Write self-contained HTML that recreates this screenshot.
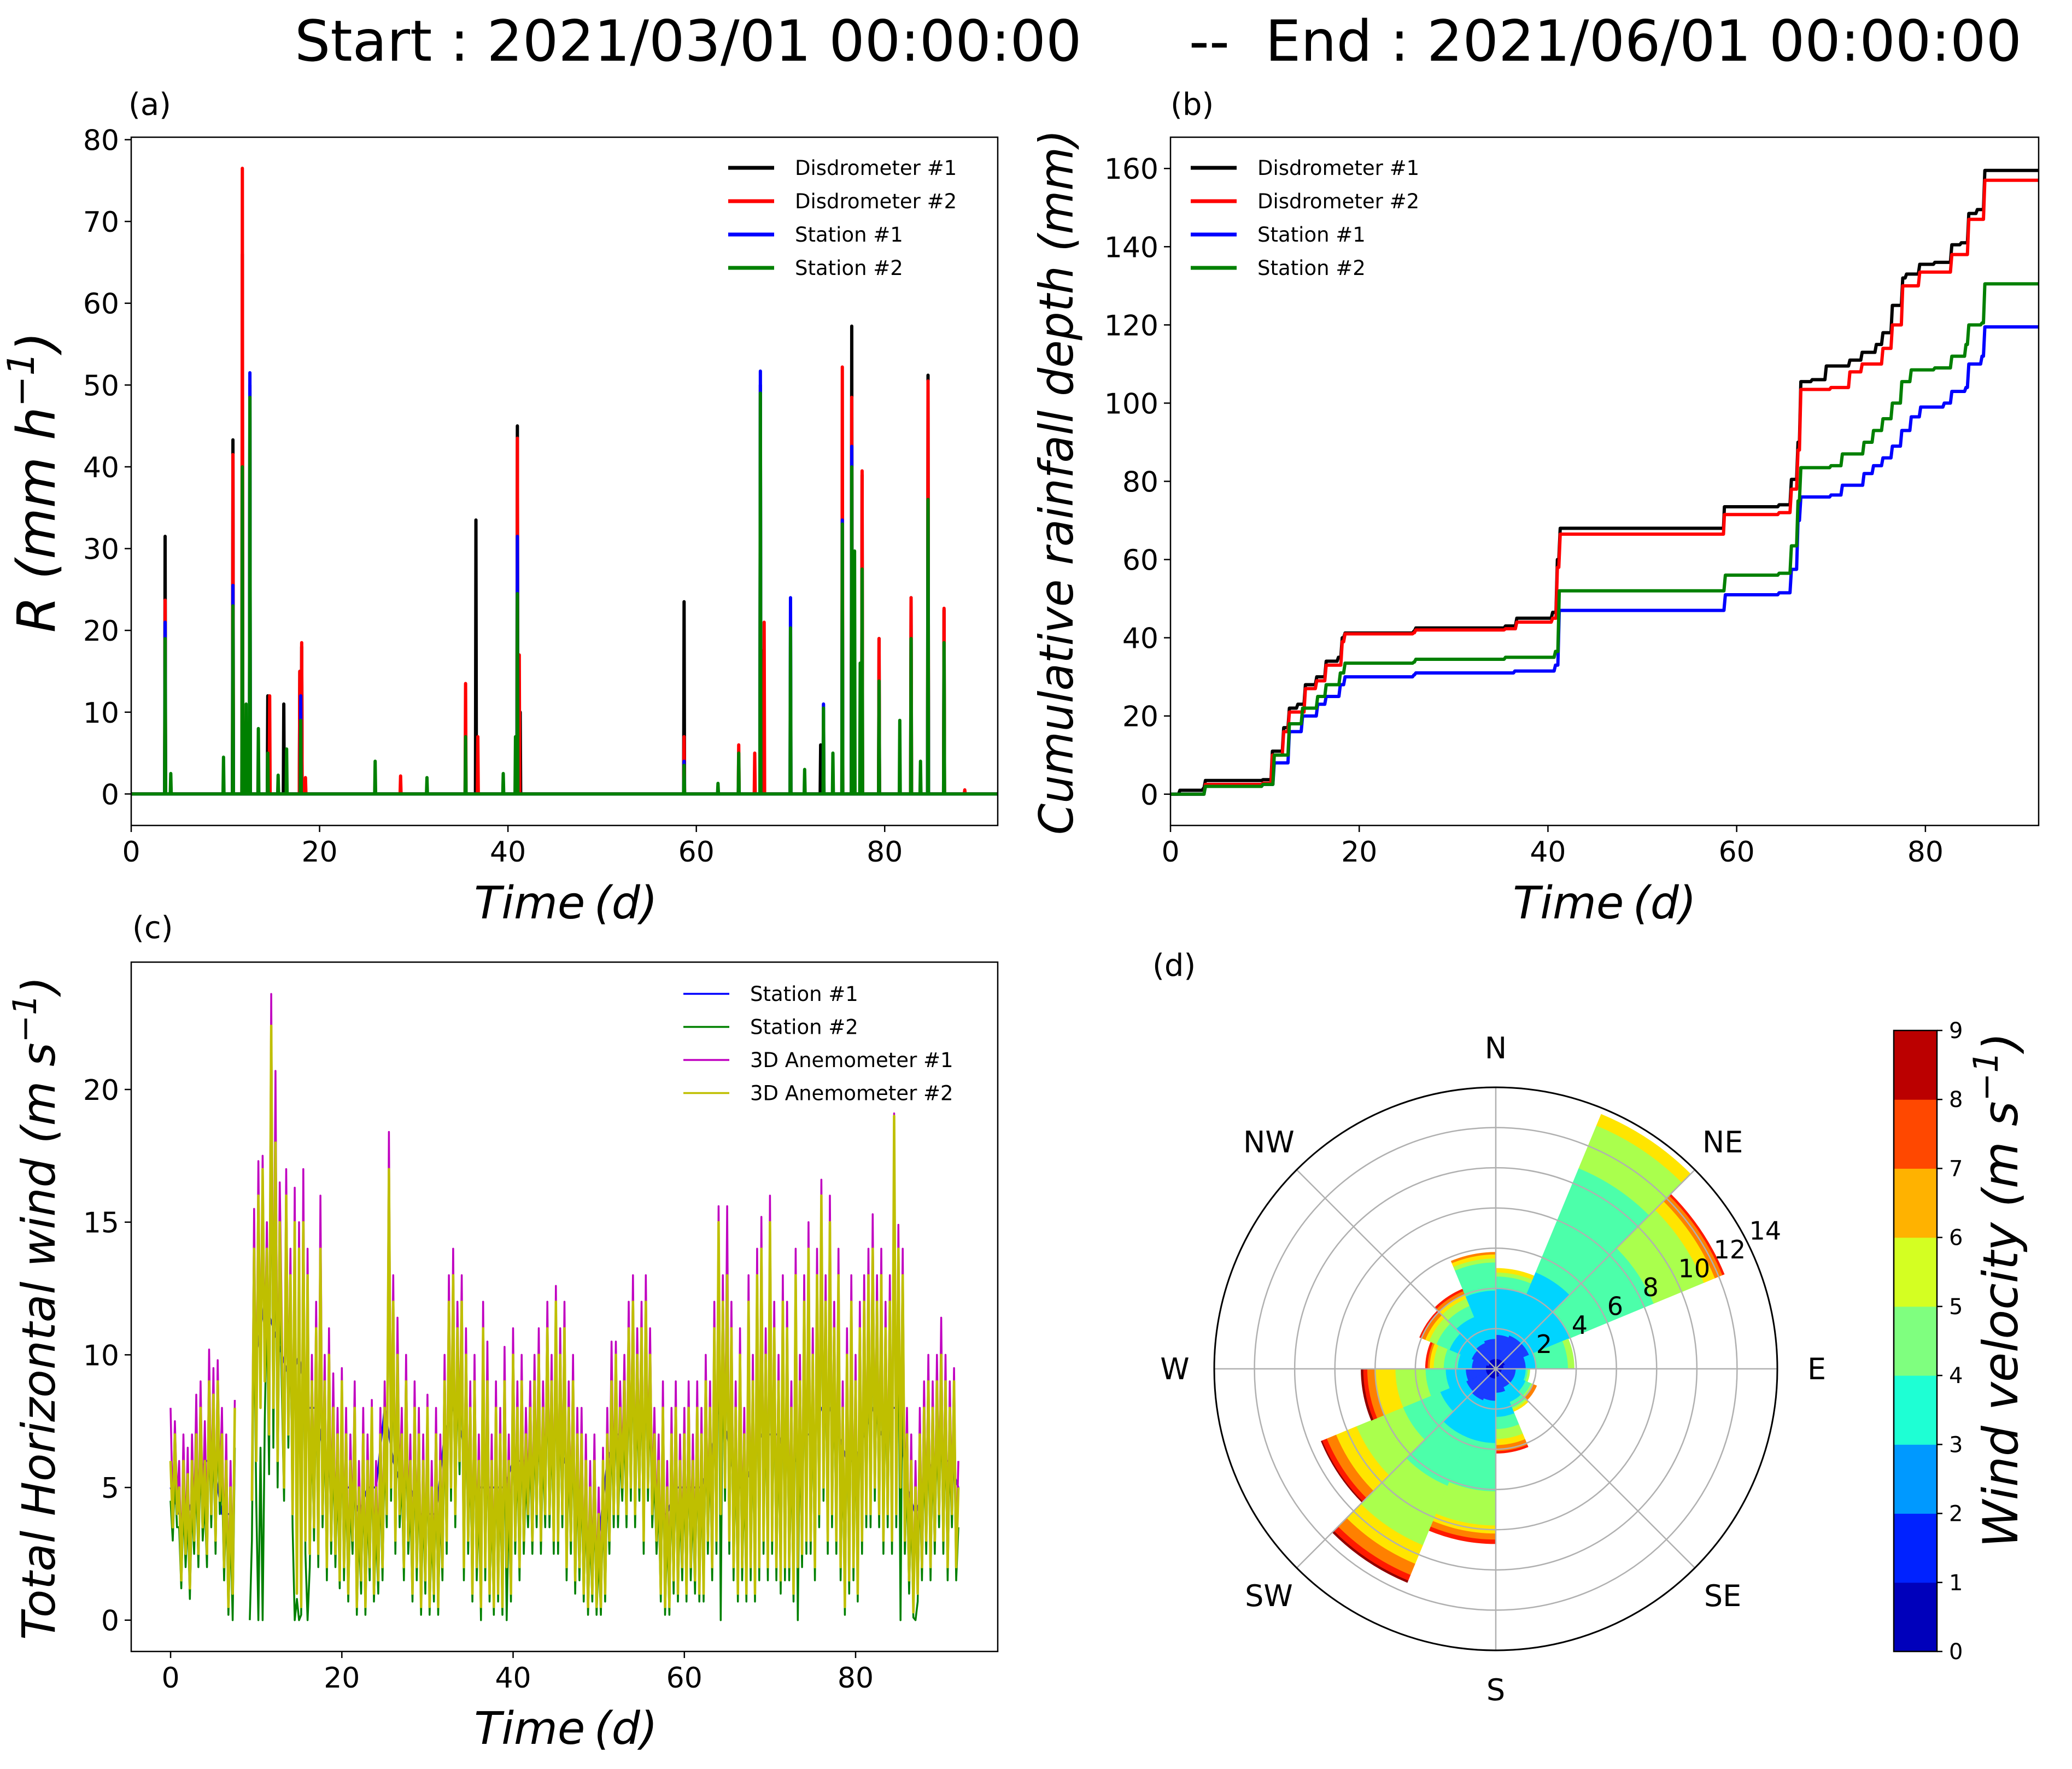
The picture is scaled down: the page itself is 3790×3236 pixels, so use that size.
<!DOCTYPE html>
<html><head><meta charset="utf-8"><style>
html,body{margin:0;padding:0;background:#fff;}
svg{display:block;font-family:"DejaVu Sans","Liberation Sans",sans-serif;}
</style></head><body>
<svg id="fig" xmlns="http://www.w3.org/2000/svg" width="3790" height="3236" viewBox="0 0 3790 3236">
<rect x="0" y="0" width="3790" height="3236" fill="#fff"/>
<text x="539" y="111" font-size="103" textLength="3159" lengthAdjust="spacingAndGlyphs" xml:space="preserve">Start : 2021/03/01 00:00:00      --  End : 2021/06/01 00:00:00</text>
</svg>
<script>
// ---------- DATA: panel (a) rain rate spikes ----------
const aD1t=[3.6,10.8,11.8,12.6,14.5,16.2,17.9,18.1,36.6,41,41.3,58.7,66.8,67,73.2,76.5,77.6,79.4,82.8,84.6,86.3];
const aD1v=[31.5,43.3,66,50,12,11,15,18,33.5,45,10,23.5,50,17.5,6,57.2,39,19,24,51.2,22.5];
const aD2t=[3.6,10.8,11.8,14.7,17.9,18.1,18.5,28.6,35.5,36.8,41,41.2,58.7,64.5,66.2,66.8,67.2,75.5,76.5,77.6,79.4,82.8,84.6,86.3,88.5];
const aD2v=[23.7,41.5,76.5,12,15,18.5,2,2.2,13.5,7,43.5,17,7,6,5,24,21,52.2,48.5,39.5,19,24,50.5,22.7,0.5];
const aS1t=[3.6,10.8,12.6,18,41,58.7,66.8,70,73.5,75.5,76.5,84.6];
const aS1v=[21,25.5,51.5,12,31.5,4,51.7,24,11,33.5,42.5,36];
const aS2t=[3.6,4.2,9.8,10.8,11.8,12.2,12.6,13.5,14.5,15.6,16.5,18,25.9,31.4,35.5,39.5,40.8,41,58.7,62.3,64.5,66.8,70,71.5,73.5,74.5,75.5,76.5,76.8,77.4,77.6,79.4,81.6,82.8,83.8,84.6,86.3];
const aS2v=[19,2.5,4.5,23,40,11,48.5,8,5,2.3,5.5,9,4,2,7,2.5,7,24.5,3.5,1.3,5,49,20.3,3,10.5,5,33,40,29.7,16,27.5,13.8,9,19,4,36,18.5];
const aXTicks=[0,20,40,60,80];
const aYTicks=[0,10,20,30,40,50,60,70,80];
// ---------- DATA: panel (b) cumulative depth ----------
const bD1t=[0,1,3.5,3.7,9.8,10.8,12,12.6,13.5,14.3,15.5,16.5,17.8,18.2,18.5,25.8,26,35.5,36.7,40.5,41,41.3,58.6,58.7,64.5,65.8,66.5,66.8,68,69.5,72,73.3,74.8,75.5,76.5,77.6,78,79.4,81,82.8,83.8,84.6,85.5,86.3,92];
const bD1v=[0,1,1.5,3.5,3.7,11,17,22,23,28,30,34,35,40,41.2,41.7,42.5,43,45,46.5,60,68,68,73.5,74,80.5,90,105.5,106,109.5,111,113,115,118,125,132,133,135.5,136,140.5,141,148.5,149.5,159.5,159.5];
const bD2t=[0,3.7,9.8,10.8,12,12.6,14.3,15.5,16.5,18.2,18.5,25.8,26,35.5,36.7,40.5,41,41.3,58.6,58.7,64.5,65.8,66.5,66.8,70,72,73.3,75.5,76.5,77.6,79.4,82.8,84.6,86.3,92];
const bD2v=[0,2.5,2.8,10,16,21,27,29,33,39,41,41.3,42,42.3,44,45,58,66.5,66.5,71.5,72,78,88,103.5,104,108,110,114,120,130,133.5,138,147,157,157];
const bS1t=[0,3.7,9.8,11,12.6,14,15.6,16.5,18,18.5,25.8,26,36.5,40.8,41.2,58.6,58.8,64.5,65.8,66.5,66.8,70,71.2,73.5,74.5,75.5,76.5,77.5,78.5,79.5,82,82.8,84.3,84.6,86,86.3,92];
const bS1v=[0,2,2.5,8,16,20,23,25,28,30,30.5,31,31.5,33,47,47,51,51.5,57.5,70,76,76.5,79,82,84,86,89,93,96.5,99,100,103,104,110,112,119.5,119.5];
const bS2t=[0,3.7,9.8,11,12.6,14,15.6,16.5,18,18.5,25.8,26,35.5,40.8,41.2,58.6,58.8,64.5,65.8,66.5,66.8,70,71.2,73.5,74.5,75.5,76.5,77.5,78.5,81,82.8,84.3,84.6,86,86.3,92];
const bS2v=[0,2,2.5,10,18,22,25,28,31,33.5,33.8,34.5,35,36.5,52,52,56,56.5,63.5,75,83.5,84,87,90,93,96,100,105.5,108.5,109,112,115,120,120.5,130.5,130.5];
const bYTicks=[0,20,40,60,80,100,120,140,160];
// ---------- DATA: panel (c) wind speed (0.25-day samples) ----------
const cYellow=[6,3.5,7,4, 5,1.5,6,2.5, 5.5,1.2,6,3, 7,2.5,8,3.5, 6,2.5,9,4, 8.5,3,9,4.5, 7,2,6,0.5, 5,1,8,null,
null,null,null,null, null,null,4.5,14, 6,16,8,17, 9,14,7,22.4, 8,18,6,15, 10,5,16,7, 13,4,15,1, 14,0.5,15,3,
13,2.5,9,3.5, 11,2.5,14,4, 9,2,10,3, 8,2.5,7,1.5, 9,2,7,1, 6,3,8,0.5, 5,1.5,7,0.5, 6,2,8,1, 5,1.5,7,2, 8,4,17,5,
12,3,10,4, 7,2,9,3, 6,1,8,2, 7,0.5,6,1.5, 8,0.5,5,1, 7,0.5,6,2, 9,3,12,5, 13,4,11,6, 12,2,10,3, 8,1,9,2,
6,0.5,11,2, 9,1,6,0.5, 8,1,7,0.5, 9,2,6,1, 10,3,8,2, 9,3,7,4, 8,3,9,4, 10,3,8,4, 11,4,9,3, 12,3,10,4,
11,2,8,3, 9,1.5,7,2, 7,1,6,0.5, 5,1,6,0.5, 4,0.5,6,1, 7,3,9,4, 10,4,8,5, 9,4,11,5, 12,4,10,5, 11,3,12,5,
10,4,7,3, 6,1,8,0.5, 5,0.5,7,1.5, 8,1,6,2, 7,1,8,2, 6,1.5,8,1, 7,1,9,3, 8,2,11,3, 15,4,12,5, 13,3,11,2,
8,1,10,2, 7,1,12,2, 9,1,13,2, 14,3,10,2, 15,3,11,2, 9,1.5,12,2, 11,2,8,1, 13,2,9,2.5, 12,3,14,3, 10,2,13,4,
16,5,12,3, 15,4,11,3, 13,2,8,0.5, 10,1.5,12,2, 9,1,11,3, 12,4,13,4, 14,5,12,4, 13,3,11,4, 12,3,19,4, 14,5,13,3,
7,1.5,6,0.3, 5,1,7,2, 8,3,9,2, 8,3,9,4, 10,3,9,2, 8,4,9,2, 5];
const cMagenta=[8,4,7.5,4.5, 6,2,7,3, 6.5,1.5,7,3.5, 8.5,3,9,4, 7.5,3,10.2,4.5, 9.5,3.5,9.8,5, 8,2.5,7,1, 6,1.5,8.3,null,
null,null,null,null, null,null,5,15.5, 7,17.3,9,17.5, 10,15,8,23.6, 9,20.7,7,16.5, 11,5.5,17,8, 14,4.5,16.3,1.5, 15,1,17,3.5,
14,3,10,4, 12,3,16,4.5, 10,2.5,11,3.5, 9.3,3,8,2, 9.5,2.5,8,1.5, 7,3.5,9,1, 6,2,8,1, 7,2.5,8.3,1.5, 6,2,8,2.5, 9,4.5,18.4,5.5,
13,3.5,11.4,4.5, 8,2.5,10,3.5, 7,1.5,9,2.5, 8,1,7,2, 8.5,1,6,1.5, 8,1,7,2.5, 10,3.5,13,5.5, 14,4.5,12,6.5, 13,2.5,11,3.5, 9,1.5,10,2.5,
7,1,12,2.5, 10.5,1.5,7,1, 9,1.5,8,1, 10.3,2.5,7,1.5, 11,3.5,9,2.5, 10,3.5,8,4.5, 9,3.5,10,4.5, 11,3.5,9,4.5, 12,4.5,10,3.5, 12.6,3.5,11,4.5,
12,2.5,9,3.5, 10,2,8,2.5, 8,1.5,7,1, 6,1.5,7,1, 5,1,6.5,1.5, 8,3.5,10.5,4.5, 10.5,4.5,9,5.5, 10,4.5,12,5.5, 13,4.5,11,5.5, 12,3.5,13,5.5,
11,4.5,8,3.5, 7,1.5,9,1, 6,1,8,2, 9,1.5,7,2.5, 8,1.5,9,2.5, 7,2,9,1.5, 8,1.5,10,3.5, 9,2.5,12,3.5, 15.6,4.5,13,5.5, 15.6,3.5,12,2.5,
9,1.5,11,2.5, 8,1.5,13,2.5, 10,1.5,14,2.5, 15.2,3.5,11,2.5, 16,3.5,12,2.5, 10,2,13,2.5, 12,2.5,9,1.5, 14,2.5,10,3, 13,3.5,15,3.5, 11,2.5,14,4.5,
16.6,5.5,13,3.5, 16,4.5,12,3.5, 14,2.5,9,1, 11,2,13,2.5, 10,1.5,12,3.5, 13,4.5,14,4.5, 15.3,5.5,13,4.5, 14,3.5,12,4.5, 13,3.5,19.1,4.5, 14.9,5.5,14,3.5,
8,2,7,0.5, 6,1.5,8,2.5, 9,3.5,10,2.5, 9,3.5,10,4.5, 11.4,3.5,10,2.5, 9,4.5,9.5,2.5, 6];
const cGreen=[4.5,3,5.5,3.5, 3.5,1.2,4.5,2, 4,0.8,4.5,2.5, 5.5,2,6.5,3, 4.5,2,7.5,3.5, 7,2.5,7.5,4, 5.5,1.5,4.5,0.2, 3.5,0,6.5,null,
null,null,null,null, null,0,3,12, 4.5,0,6.5,0, 7.5,12,5.5,20, 6.5,16,5,13, 8.5,4.5,14,6.5, 11.5,3.5,0,0.8, 0,0.2,13,2.5,
0,2,7.5,3, 9.5,2,12,3.5, 7.5,1.5,8.5,2.5, 6.5,2,5.5,1.2, 7.5,1.5,5.5,0.7, 4.5,2.5,6.5,0.2, 3.5,1,5.5,0.2, 4.5,1.5,6.5,0.7, 3.5,1,5.5,1.5, 6.5,3.5,15,4.5,
10.5,2.5,8.5,3.5, 5.5,1.5,7.5,2.5, 4.5,0.7,6.5,1.5, 5.5,0.2,4.5,1, 6.5,0.2,3.5,0.7, 5.5,0.2,4.5,1.5, 7.5,2.5,10.5,4.5, 11.5,3.5,9.5,5.5, 10.5,1.5,8.5,2.5, 6.5,0.7,7.5,1.5,
4.5,0,9.5,1.5, 7.5,0.7,4.5,0.2, 6.5,0.7,5.5,0.2, 7.5,0,4.5,0.7, 8.5,2.5,6.5,1.5, 7.5,2.5,5.5,3.5, 6.5,2.5,7.5,3.5, 8.5,2.5,6.5,3.5, 9.5,3.5,7.5,2.5, 10.5,2.5,8.5,3.5,
9.5,1.5,6.5,2.5, 7.5,1,5.5,1.5, 5.5,0.7,4.5,0.2, 3.5,0.7,4.5,0.2, 2.5,0.2,4.5,0.7, 5.5,2.5,7.5,3.5, 8.5,3.5,6.5,4.5, 7.5,3.5,9.5,4.5, 10.5,3.5,8.5,4.5, 9.5,2.5,10.5,4.5,
8.5,3.5,5.5,2.5, 4.5,0.7,6.5,0.2, 3.5,0.2,5.5,1, 6.5,0.7,4.5,1.5, 5.5,0.7,6.5,1.5, 4.5,1,6.5,0.7, 5.5,0.7,7.5,2.5, 6.5,1.5,9.5,2.5, 13.5,0,10.5,4.5, 11.5,2.5,9.5,1.5,
6.5,0.7,8.5,1.5, 5.5,0.7,10.5,1.5, 7.5,0.7,11.5,1.5, 12.5,2.5,8.5,1.5, 13.5,2.5,9.5,1.5, 7.5,1,10.5,1.5, 9.5,1.5,6.5,0.7, 11.5,0,7.5,2, 10.5,2.5,12.5,2.5, 8.5,1.5,11.5,3.5,
14.5,4.5,10.5,2.5, 13.5,3.5,9.5,2.5, 11.5,1.5,6.5,0.2, 8.5,1,10.5,1.5, 7.5,0.7,9.5,2.5, 10.5,3.5,11.5,3.5, 12.5,4.5,10.5,3.5, 11.5,2.5,9.5,3.5, 10.5,2.5,17.5,3.5, 12.5,0,11.5,2.5,
5.5,1,4.5,0.1, 0,0.7,5.5,1.5, 6.5,2.5,7.5,1.5, 6.5,2.5,7.5,3.5, 8.5,2.5,7.5,1.5, 6.5,3.5,7.5,1.5, 3.5];
const cBlue=[5,4,4,5,6,6,4,4,null,null,10,12,11,10,9,10,8,8,6,5,5,5,4,5,5,8,6,5,5,4,4,4,7,8,7,5,5,5,5,5,6,6,6,6,7,7,6,5,4,3,3,6,7,7,8,8,7,4,4,5,5,5,5,6,8,7,5,5,6,7,7,7,6,6,7,7,8,8,7,6,6,7,8,7,8,8,5,4,5,6,6,6,5];
const cXTicks=[0,20,40,60,80];
const cYTicks=[0,5,10,15,20];
// ---------- DATA: panel (d) wind rose ----------
const roseDirections=['NNE','ENE-N','ENE','E-N','ESE','SE-E','SSE','S-E','SSW','SW-S','WSW','W-S','WNW','NW-W','NNW-N','N-W'];
const roseSpeedBins=['0-1','1-2','2-3','3-4','4-5','5-6','6-7','7-8','8-9'];
const roseCum=[
[.5,1.7,4.0,4.6,4.8,5.0,5.0,5.0,5.0],
[.5,1.8,5.2,10.8,13.1,13.7,13.7,13.7,13.7],
[.5,1.8,4.0,8.5,11.2,11.8,12.2,12.3,12.3],
[.4,1.5,2.0,3.6,3.9,3.9,3.9,3.9,3.9],
[.3,1.0,1.5,1.6,1.7,1.7,1.7,1.7,1.7],
[.3,1.0,1.6,1.9,2.0,2.0,2.2,2.2,2.2],
[.3,1.0,1.8,2.1,2.2,2.3,2.3,2.3,2.3],
[.4,1.2,2.4,3.0,3.5,3.8,4.1,4.2,4.2],
[.5,1.6,3.7,6.1,7.8,8.2,8.5,8.7,8.7],
[.5,1.7,3.7,6.3,9.5,10.5,11.1,11.4,11.5],
[.5,1.6,3.0,5.0,7.5,8.6,9.1,9.35,9.4],
[.5,1.5,2.5,3.5,5.0,6.0,6.4,6.6,6.7],
[.5,1.2,1.9,2.6,3.1,3.3,3.4,3.5,3.5],
[.4,1.3,2.5,3.2,3.6,3.8,4.0,4.1,4.1],
[.5,1.4,2.8,3.4,3.8,4.0,4.2,4.3,4.3],
[.5,1.5,3.9,5.3,5.5,5.7,5.8,5.8,5.8]];
const roseRTicks=[2,4,6,8,10,12,14];
const compassLabels=['N','NE','E','SE','S','SW','W','NW'];
const cbarTicks=[0,1,2,3,4,5,6,7,8,9];

// ---------- helpers ----------
const NS='http://www.w3.org/2000/svg';
const svg=document.getElementById('fig');
function mk(tag,attrs,parent){const e=document.createElementNS(NS,tag);for(const k in attrs)e.setAttribute(k,attrs[k]);(parent||svg).appendChild(e);return e;}
function txt(s,attrs,parent){const e=mk('text',attrs,parent);e.textContent=s;return e;}
function scales(c){return{sx:v=>c.L+(v-c.xmin)/(c.xmax-c.xmin)*(c.R-c.L),sy:v=>c.B-(v-c.ymin)/(c.ymax-c.ymin)*(c.B-c.T)};}
let clipN=0;
function frame(c,name,xt,yt){
  const g=mk('g',{});
  
  
  const s=scales(c);
  const id='clip'+(clipN++);
  const cp=mk('clipPath',{id:id},g);mk('rect',{x:c.L,y:c.T,width:c.R-c.L,height:c.B-c.T},cp);
  const plot=mk('g',{'clip-path':'url(#'+id+')'},g);
  
  
  const ax=mk('g',{},g);
  xt.forEach(v=>{const x=s.sx(v);
    const t=mk('line',{x1:x,x2:x,y1:c.B,y2:c.B+12,stroke:'#000','stroke-width':2.5},ax);
    
    
    const l=txt(String(v),{x:x,y:c.B+66,'font-size':52,'text-anchor':'middle'},ax);
    
    });
  yt.forEach(v=>{const y=s.sy(v);
    const t=mk('line',{x1:c.L-12,x2:c.L,y1:y,y2:y,stroke:'#000','stroke-width':2.5},ax);
    
    
    const l=txt(String(v),{x:c.L-22,y:y+19,'font-size':52,'text-anchor':'end'},ax);
    
    });
  return {g,plot,ax,s};
}
function closeFrame(c,g){const r=mk('rect',{x:c.L,y:c.T,width:c.R-c.L,height:c.B-c.T,fill:'none',stroke:'#000','stroke-width':2.5},g);
  
  }
function timeLabel(x,y,parent){const t=txt('',{x:x,y:y,'font-size':82,'font-style':'italic','text-anchor':'middle'},parent);
  t.textContent='Time\u2009(d)';
  
  }
function legend(parent,x0,y0,dy,items,lw){
  const g=mk('g',{},parent);
  
  
  items.forEach((it,i)=>{const y=y0+i*dy;
    const e=mk('g',{},g);
    
    
    mk('line',{x1:x0,x2:x0+84,y1:y,y2:y,stroke:it[1],'stroke-width':lw},e);
    txt(it[0],{x:x0+122,y:y+13,'font-size':37},e);});
}
const COLS=['#000000','#ff0000','#0000ff','#008000'];
const NAMES=['Disdrometer #1','Disdrometer #2','Station #1','Station #2'];

// ---------- panel (a) ----------
const A={L:240,R:1825,T:251,B:1510,xmin:0,xmax:92,ymin:-3.85,ymax:80.3};
const fa=frame(A,'panel-a-rain-rate',aXTicks,aYTicks);
[[aD1t,aD1v],[aD2t,aD2v],[aS1t,aS1v],[aS2t,aS2v]].forEach((sv,k)=>{
  const s=fa.s;const y0=s.sy(0);
  let d='M'+s.sx(0)+','+y0+' L'+s.sx(7.8)+','+y0+' M'+s.sx(9.5)+','+y0;
  const idx=sv[0].map((t,i)=>i).sort((a,b)=>sv[0][a]-sv[0][b]);
  idx.forEach(i=>{const t=sv[0][i];d+=' L'+s.sx(t-0.05)+','+y0+' L'+s.sx(t)+','+s.sy(sv[1][i])+' L'+s.sx(t+0.05)+','+y0;});
  d+=' L'+s.sx(92)+','+y0;
  const p=mk('path',{d:d,fill:'none',stroke:COLS[k],'stroke-width':6,'stroke-linejoin':'round'},fa.plot);
  
  
});
legend(fa.g,1332,307,61,NAMES.map((n,i)=>[n,COLS[i]]),7);
closeFrame(A,fa.g);
timeLabel(1035,1680,fa.g);
(function(){const t=txt('',{transform:'translate(100,882) rotate(-90)','font-size':96,'font-style':'italic','text-anchor':'middle'},fa.g);
 
 
 const a=mk('tspan',{},t);a.textContent='R (mm h';const b=mk('tspan',{dy:-38,'font-size':68},t);b.textContent='\u22121';const c=mk('tspan',{dy:38},t);c.textContent=')';})();
const la=txt('(a)',{x:235,y:210,'font-size':56},svg);



// ---------- panel (b) ----------
const B={L:2141,R:3729,T:251,B:1510,xmin:0,xmax:92,ymin:-8,ymax:168};
const fb=frame(B,'panel-b-cumulative-rainfall',aXTicks,bYTicks);
[[bD1t,bD1v],[bD2t,bD2v],[bS1t,bS1v],[bS2t,bS2v]].forEach((sv,k)=>{
  const s=fb.s;let d='M'+s.sx(sv[0][0])+','+s.sy(sv[1][0]);
  for(let i=1;i<sv[0].length;i++){
    const tj=Math.max(sv[0][i-1],sv[0][i]-0.15);
    d+=' L'+s.sx(tj)+','+s.sy(sv[1][i-1])+' L'+s.sx(sv[0][i])+','+s.sy(sv[1][i]);
  }
  const p=mk('path',{d:d,fill:'none',stroke:COLS[k],'stroke-width':6,'stroke-linejoin':'round'},fb.plot);
  
  
});
legend(fb.g,2178,307,61,NAMES.map((n,i)=>[n,COLS[i]]),7);
closeFrame(B,fb.g);
timeLabel(2935,1680,fb.g);
(function(){const t=txt('Cumulative rainfall depth (mm)',{transform:'translate(1962,882) rotate(-90)','font-size':86,'font-style':'italic','text-anchor':'middle',textLength:1290,lengthAdjust:'spacingAndGlyphs'},fb.g);
 
 })();
const lb=txt('(b)',{x:2141,y:210,'font-size':56},svg);



// ---------- panel (c) ----------
const C={L:240,R:1825,T:1760,B:3021,xmin:-4.6,xmax:96.6,ymin:-1.18,ymax:24.8};
const fc=frame(C,'panel-c-horizontal-wind',cXTicks,cYTicks);
const CW=[[cBlue,1,'#0000ff',3.5],[cGreen,0.25,'#008000',3.5],[cMagenta,0.25,'#c000c0',3.5],[cYellow,0.25,'#bfbf00',4.5]];
CW.forEach((ser,k)=>{
  const s=fc.s;let d='';let pen=false;
  ser[0].forEach((v,i)=>{if(v===null){pen=false;return;}
    d+=(pen?' L':' M')+s.sx(i*ser[1]).toFixed(1)+','+s.sy(v).toFixed(1);pen=true;});
  const p=mk('path',{d:d,fill:'none',stroke:ser[2],'stroke-width':ser[3],'stroke-linejoin':'round'},fc.plot);
  
  
});
legend(fc.g,1250,1818,60.5,[['Station #1','#0000ff'],['Station #2','#008000'],['3D Anemometer #1','#c000c0'],['3D Anemometer #2','#bfbf00']],3.5);
closeFrame(C,fc.g);
timeLabel(1035,3190,fc.g);
(function(){const t=txt('',{transform:'translate(100,2393) rotate(-90)','font-size':84,'font-style':'italic','text-anchor':'middle'},fc.g);
 
 
 const a=mk('tspan',{},t);a.textContent='Total Horizontal wind (m s';const b=mk('tspan',{dy:-34,'font-size':60},t);b.textContent='\u22121';const c=mk('tspan',{dy:34},t);c.textContent=')';})();
const lc=txt('(c)',{x:242,y:1716,'font-size':56},svg);



// ---------- panel (d) wind rose ----------
const CX=2736,CY=2504,RAD=515,RMAX=14;
const rr=v=>v/RMAX*RAD;
const pt=(deg,r)=>[CX+r*Math.sin(deg*Math.PI/180),CY-r*Math.cos(deg*Math.PI/180)];
const ROSECOL=['#0000c8','#1a3cff','#00d4ff','#4cffaa','#aaff4d','#ffe500','#ff8000','#ff1a00','#900000'];
const gd=mk('g',{});


roseCum.forEach((cum,i)=>{
  const a0=i*22.5,a1=(i+1)*22.5;
  cum.forEach((v,k)=>{const r0=k?rr(cum[k-1]):0,r1=rr(v);if(r1-r0<0.01)return;
    const p0=pt(a0,r1),p1=pt(a1,r1),q1=pt(a1,r0),q0=pt(a0,r0);
    const d='M'+p0+' A'+r1+','+r1+' 0 0 1 '+p1+' L'+q1+(r0>0?' A'+r0+','+r0+' 0 0 0 '+q0:'')+' Z';
    const w=mk('path',{d:d,fill:ROSECOL[k],stroke:ROSECOL[k],'stroke-width':0.8},gd);
    
    });
});
roseRTicks.forEach(v=>{const c=mk('circle',{cx:CX,cy:CY,r:rr(v),fill:'none',stroke:'#b0b0b0','stroke-width':2.5},gd);
  
  
  const p=pt(62,rr(v)+10);
  const l=txt(String(v),{x:p[0],y:p[1]+10,'font-size':46,'text-anchor':'start'},gd);
  
  });
compassLabels.forEach((n,i)=>{const a=i*45;const e=pt(a,RAD);
  const ln=mk('line',{x1:CX,y1:CY,x2:e[0],y2:e[1],stroke:'#b0b0b0','stroke-width':2.5},gd);
  
  
  const p=pt(a,RAD+72);
  const t=txt(n,{x:p[0],y:p[1]+19,'font-size':54,'text-anchor':'middle'},gd);
  
  });
const outer=mk('circle',{cx:CX,cy:CY,r:RAD,fill:'none',stroke:'#000','stroke-width':3},gd);


const ld=txt('(d)',{x:2108,y:1785,'font-size':56},svg);



// ---------- colorbar ----------
const CB={L:3464,R:3543,T:1885,B:3021};
const CBCOL=['#0000bb','#0022ff','#0099ff','#1effd4','#7fff7f','#d4ff22','#ffb200','#ff4800','#bb0000'];
const gc=mk('g',{});


const cy=v=>CB.B-v/9*(CB.B-CB.T);
CBCOL.forEach((c,i)=>{const r=mk('rect',{x:CB.L,y:cy(i+1),width:CB.R-CB.L,height:cy(i)-cy(i+1)+0.5,fill:c},gc);
  
  });
mk('rect',{x:CB.L,y:CB.T,width:CB.R-CB.L,height:CB.B-CB.T,fill:'none',stroke:'#000','stroke-width':2.5},gc);
cbarTicks.forEach(v=>{const y=cy(v);
  mk('line',{x1:CB.R,x2:CB.R+10,y1:y,y2:y,stroke:'#000','stroke-width':2.5},gc);
  const l=txt(String(v),{x:CB.R+22,y:y+14,'font-size':40},gc);
  
  });
(function(){const t=txt('',{transform:'translate(3690,2360) rotate(-90)','font-size':88,'font-style':'italic','text-anchor':'middle'},gc);
 
 
 const a=mk('tspan',{},t);a.textContent='Wind velocity (m s';const b=mk('tspan',{dy:-36,'font-size':62},t);b.textContent='\u22121';const c=mk('tspan',{dy:36},t);c.textContent=')';})();
</script>
</body></html>
